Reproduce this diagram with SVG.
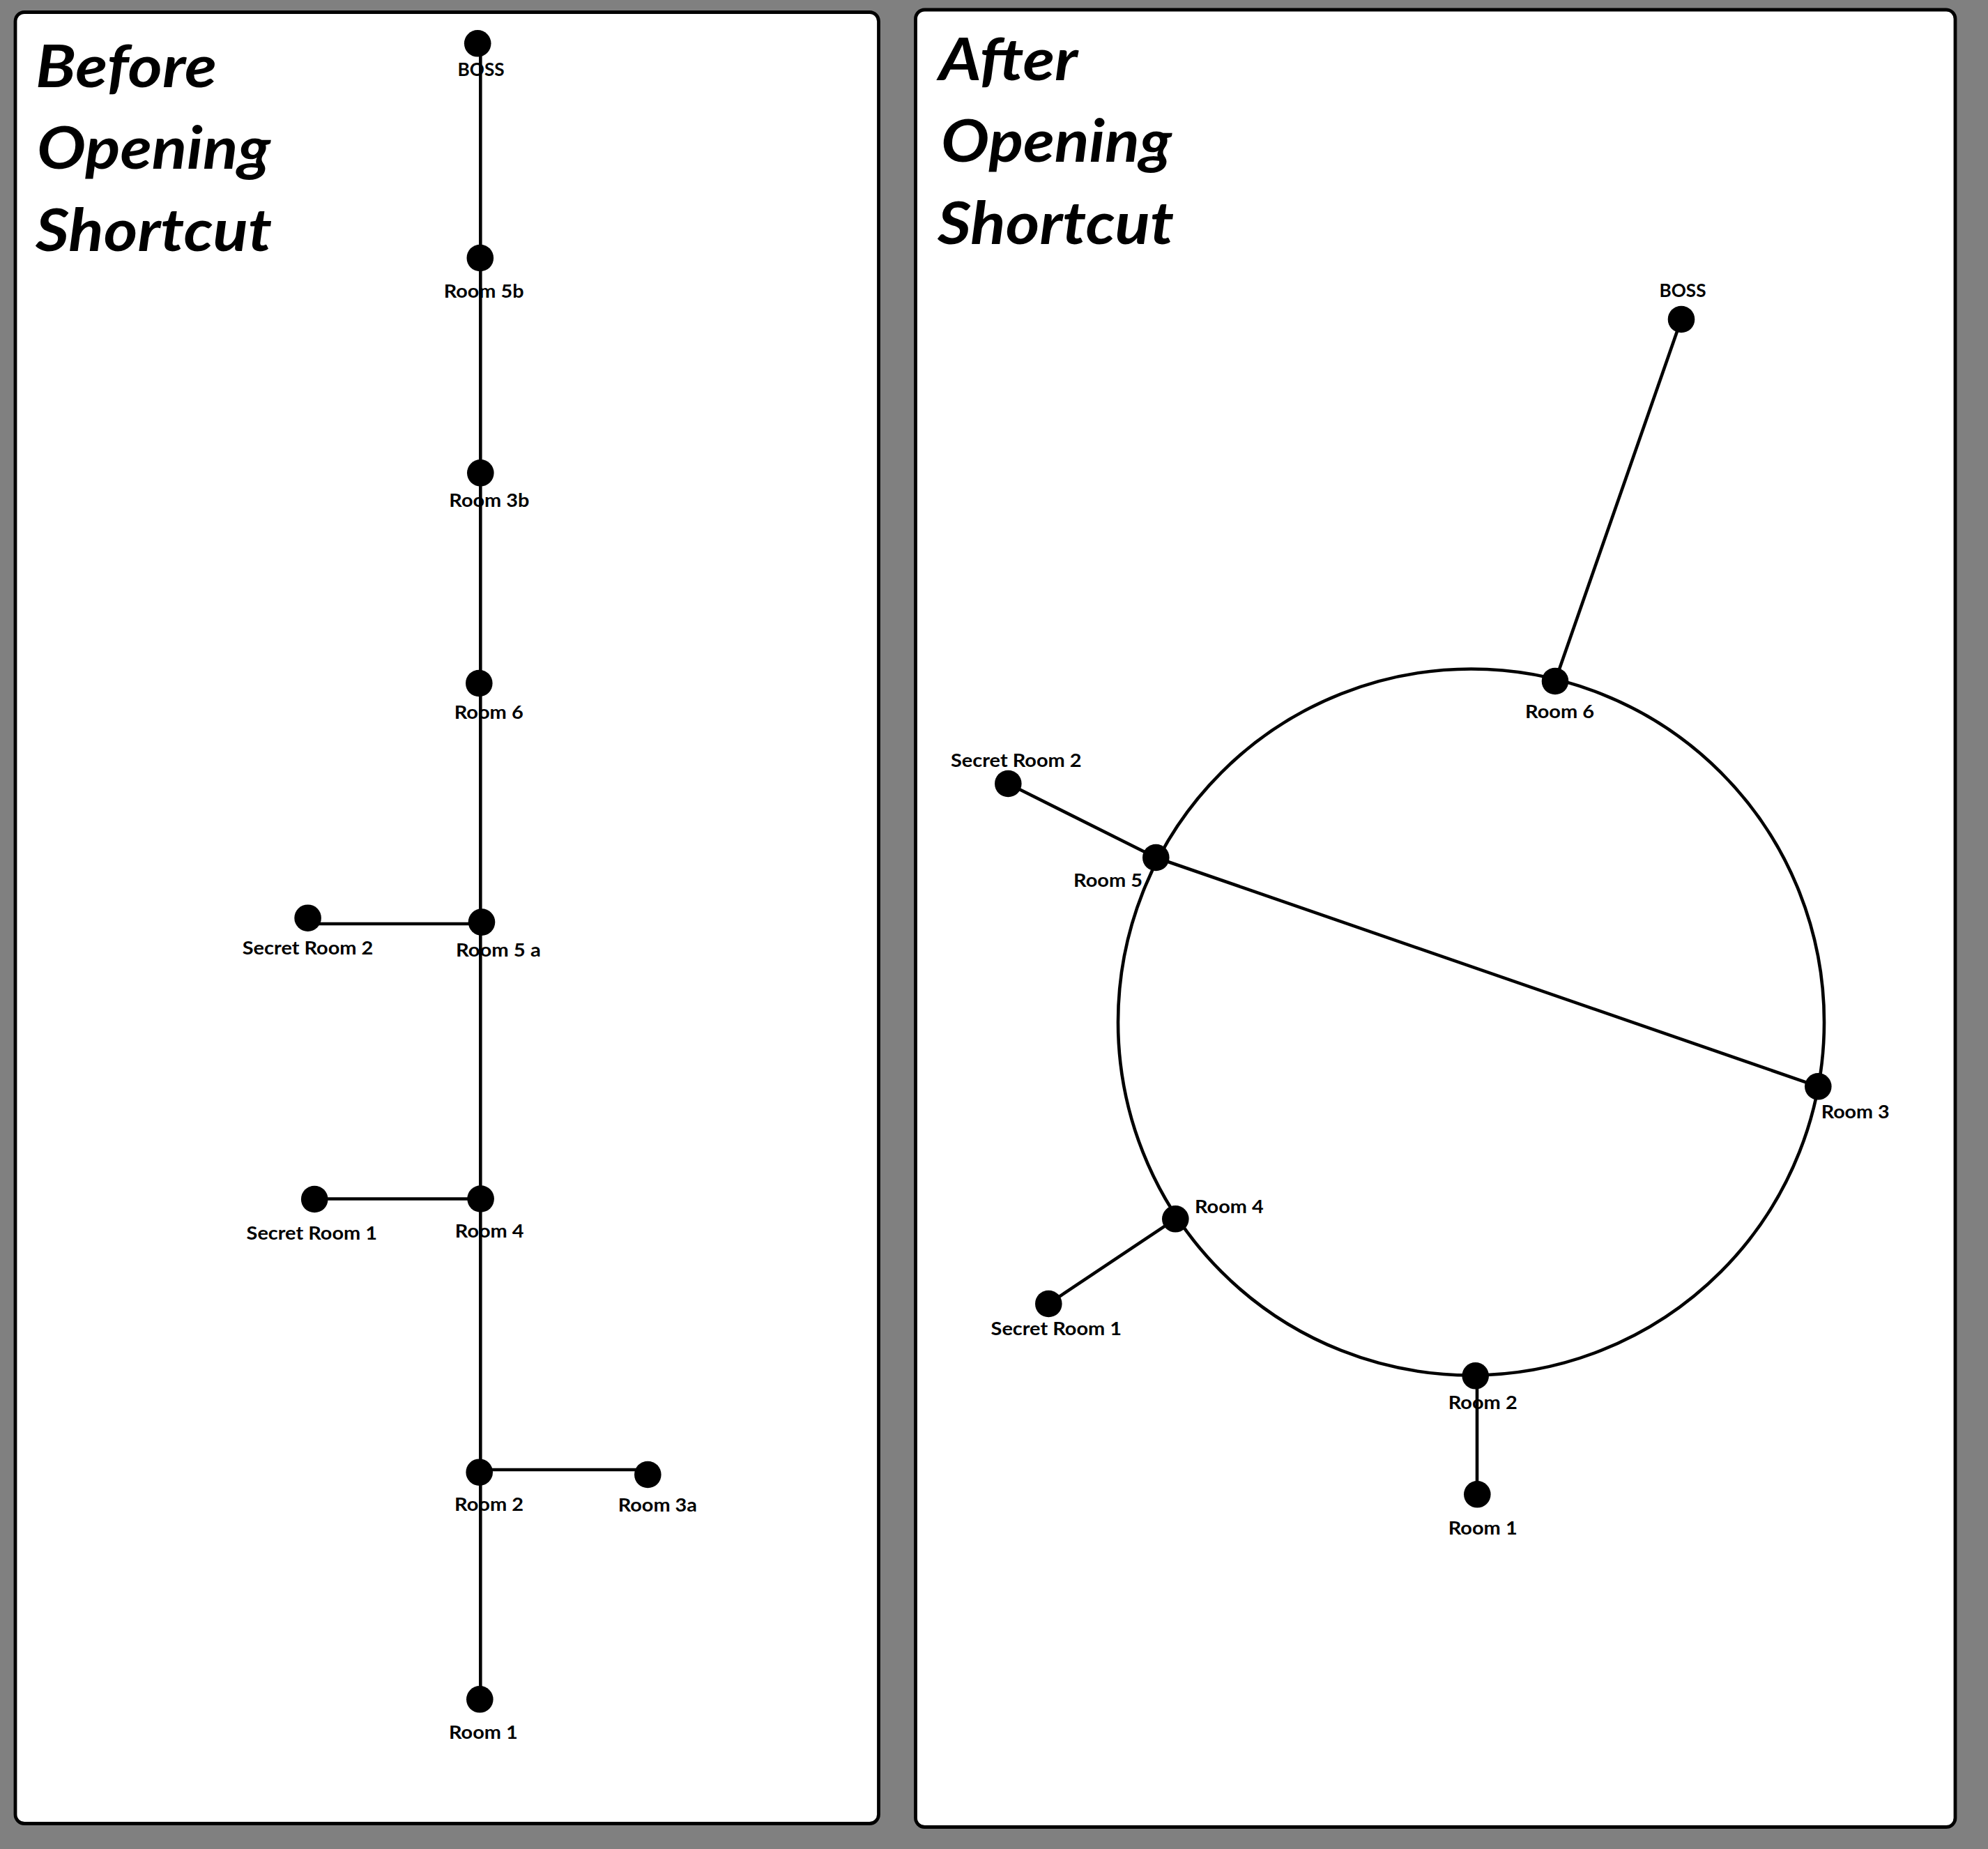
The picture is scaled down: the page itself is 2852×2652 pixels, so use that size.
<svg xmlns="http://www.w3.org/2000/svg" width="2852" height="2652" viewBox="0 0 2852 2652">
<style>
.panel{fill:#fff;stroke:#000;stroke-width:4.8}
.edge{stroke:#000;stroke-width:4.6;fill:none}
.dot{fill:#000}
.lbl{font-family:Lato,"Open Sans","Liberation Sans",sans-serif;font-weight:bold;font-size:27.5px;fill:#000}
.title{font-family:Lato,"Open Sans","Liberation Sans",sans-serif;font-weight:bold;font-style:italic;font-size:84px;fill:#000}
</style>
<rect x="0" y="0" width="2852" height="2652" fill="#808080"/>
<g id="panel-before">
<rect class="panel" x="22" y="17.5" width="1238.5" height="2598" rx="13" ry="13"/>
<text class="title" x="51" y="125" textLength="260" lengthAdjust="spacingAndGlyphs">Before</text>
<text class="title" x="53" y="242" textLength="335" lengthAdjust="spacingAndGlyphs">Opening</text>
<text class="title" x="51" y="360" textLength="339" lengthAdjust="spacingAndGlyphs">Shortcut</text>
</g>
<g id="panel-after">
<rect class="panel" x="1313.5" y="14" width="1491.5" height="2606.5" rx="13" ry="13"/>
<text class="title" x="1347" y="115" textLength="199" lengthAdjust="spacingAndGlyphs">After</text>
<text class="title" x="1350" y="232" textLength="331" lengthAdjust="spacingAndGlyphs">Opening</text>
<text class="title" x="1345" y="350" textLength="339" lengthAdjust="spacingAndGlyphs">Shortcut</text>
</g>
<g id="connectors">
<line class="edge" x1="689.3" y1="62" x2="689.3" y2="2437"/>
<line class="edge" x1="441.6" y1="1325" x2="691" y2="1325"/>
<line class="edge" x1="451" y1="1719.5" x2="689.6" y2="1719.5"/>
<line class="edge" x1="688" y1="2108" x2="929.3" y2="2108"/>
<circle class="edge" cx="2110.5" cy="1466" r="506.5"/>
<line class="edge" x1="2412" y1="458" x2="2231" y2="977"/>
<line class="edge" x1="1446.3" y1="1124" x2="1658.3" y2="1230"/>
<line class="edge" x1="1658.3" y1="1230" x2="2608.3" y2="1558.3"/>
<line class="edge" x1="1686.3" y1="1748.3" x2="1504.3" y2="1870"/>
<line class="edge" x1="2119" y1="1973.3" x2="2119" y2="2143.3"/>
</g>
<g id="b-boss"><circle class="dot" cx="685.2" cy="62.3" r="19.3"/><text class="lbl" x="656.6" y="109.3" textLength="67" lengthAdjust="spacingAndGlyphs">BOSS</text></g>
<g id="b-room5b"><circle class="dot" cx="688.8" cy="370" r="19.3"/><text class="lbl" x="636.7" y="426.7" textLength="114.8" lengthAdjust="spacingAndGlyphs">Room 5b</text></g>
<g id="b-room3b"><circle class="dot" cx="689.3" cy="678.3" r="19.3"/><text class="lbl" x="644.3" y="727.3" textLength="115" lengthAdjust="spacingAndGlyphs">Room 3b</text></g>
<g id="b-room6"><circle class="dot" cx="687.3" cy="980" r="19.3"/><text class="lbl" x="651.7" y="1030.7" textLength="99" lengthAdjust="spacingAndGlyphs">Room 6</text></g>
<g id="b-room5a"><circle class="dot" cx="691" cy="1322.6" r="19.3"/><text class="lbl" x="654" y="1372" textLength="121.7" lengthAdjust="spacingAndGlyphs">Room 5 a</text></g>
<g id="b-secret2"><circle class="dot" cx="441.6" cy="1316.7" r="19.3"/><text class="lbl" x="347.8" y="1369.3" textLength="187.6" lengthAdjust="spacingAndGlyphs">Secret Room 2</text></g>
<g id="b-room4"><circle class="dot" cx="689.6" cy="1719.5" r="19.3"/><text class="lbl" x="652.8" y="1774.6" textLength="98.7" lengthAdjust="spacingAndGlyphs">Room 4</text></g>
<g id="b-secret1"><circle class="dot" cx="451.2" cy="1720" r="19.3"/><text class="lbl" x="353.6" y="1778" textLength="187.4" lengthAdjust="spacingAndGlyphs">Secret Room 1</text></g>
<g id="b-room2"><circle class="dot" cx="687.7" cy="2111.7" r="19.3"/><text class="lbl" x="652" y="2166.7" textLength="99" lengthAdjust="spacingAndGlyphs">Room 2</text></g>
<g id="b-room3a"><circle class="dot" cx="929.3" cy="2115" r="19.3"/><text class="lbl" x="886.7" y="2168" textLength="113.3" lengthAdjust="spacingAndGlyphs">Room 3a</text></g>
<g id="b-room1"><circle class="dot" cx="688.3" cy="2437.3" r="19.3"/><text class="lbl" x="644" y="2494" textLength="98.7" lengthAdjust="spacingAndGlyphs">Room 1</text></g>
<g id="a-boss"><circle class="dot" cx="2412" cy="458" r="19.3"/><text class="lbl" x="2380.5" y="425.7" textLength="67" lengthAdjust="spacingAndGlyphs">BOSS</text></g>
<g id="a-room6"><circle class="dot" cx="2231" cy="977" r="19.3"/><text class="lbl" x="2188" y="1030" textLength="99" lengthAdjust="spacingAndGlyphs">Room 6</text></g>
<g id="a-secret2"><circle class="dot" cx="1446.3" cy="1124" r="19.3"/><text class="lbl" x="1364" y="1100" textLength="187.6" lengthAdjust="spacingAndGlyphs">Secret Room 2</text></g>
<g id="a-room5"><circle class="dot" cx="1658.3" cy="1230" r="19.3"/><text class="lbl" x="1540" y="1271.7" textLength="99" lengthAdjust="spacingAndGlyphs">Room 5</text></g>
<g id="a-room3"><circle class="dot" cx="2608.3" cy="1558.3" r="19.3"/><text class="lbl" x="2612.7" y="1604" textLength="98" lengthAdjust="spacingAndGlyphs">Room 3</text></g>
<g id="a-room4"><circle class="dot" cx="1686.3" cy="1748.3" r="19.3"/><text class="lbl" x="1714" y="1740" textLength="98.7" lengthAdjust="spacingAndGlyphs">Room 4</text></g>
<g id="a-secret1"><circle class="dot" cx="1504.3" cy="1870" r="19.3"/><text class="lbl" x="1421.6" y="1915" textLength="187.4" lengthAdjust="spacingAndGlyphs">Secret Room 1</text></g>
<g id="a-room2"><circle class="dot" cx="2116.7" cy="1973.3" r="19.3"/><text class="lbl" x="2077.7" y="2020.7" textLength="99" lengthAdjust="spacingAndGlyphs">Room 2</text></g>
<g id="a-room1"><circle class="dot" cx="2119.3" cy="2143.3" r="19.3"/><text class="lbl" x="2077.7" y="2200.7" textLength="99" lengthAdjust="spacingAndGlyphs">Room 1</text></g>
</svg>
